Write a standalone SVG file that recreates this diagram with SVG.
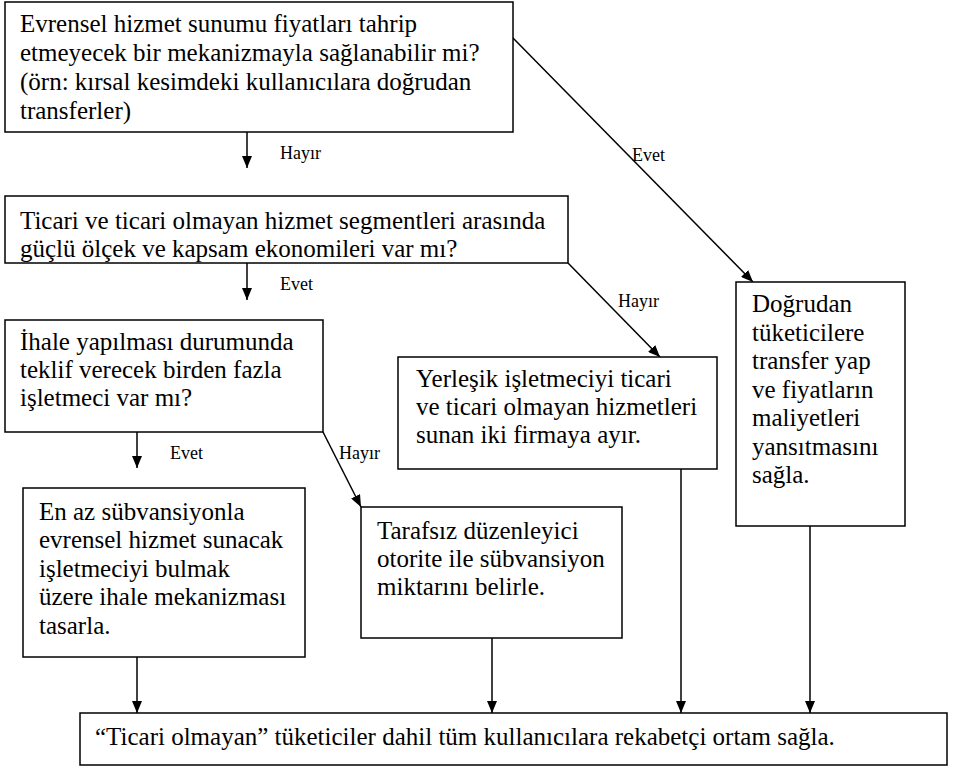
<svg xmlns="http://www.w3.org/2000/svg" width="953" height="768" viewBox="0 0 953 768">
<style>
.box{fill:#fff;stroke:#000;stroke-width:1.5}
.t{font-family:"Liberation Serif","Times New Roman",serif;font-size:25px;fill:#000}
.l{font-family:"Liberation Serif","Times New Roman",serif;font-size:18px;fill:#000}
.c{stroke:#000;stroke-width:1.5;fill:none;marker-end:url(#ah)}
</style>
<defs>
<marker id="ah" viewBox="0 0 12 10" refX="12" refY="5" markerWidth="12" markerHeight="10" markerUnits="userSpaceOnUse" orient="auto">
<path d="M0,0 L12,5 L0,10 z" fill="#000"/>
</marker>
</defs>
<rect width="953" height="768" fill="#fff"/>
<g id="connectors">
<line class="c" x1="247" y1="132" x2="247" y2="168"/>
<line class="c" x1="247" y1="263" x2="247" y2="300"/>
<line class="c" x1="137" y1="432" x2="137" y2="468"/>
<line class="c" x1="323" y1="432" x2="361" y2="507"/>
<line class="c" x1="568" y1="263" x2="660" y2="357"/>
<line class="c" x1="512" y1="37" x2="753" y2="282"/>
<line class="c" x1="137" y1="657" x2="137" y2="713"/>
<line class="c" x1="492" y1="638" x2="492" y2="713"/>
<line class="c" x1="681" y1="469" x2="681" y2="713"/>
<line class="c" x1="810" y1="526" x2="810" y2="713"/>
<text class="l" x="280" y="159">Hayır</text>
<text class="l" x="280" y="290">Evet</text>
<text class="l" x="170" y="459">Evet</text>
<text class="l" x="339" y="459">Hayır</text>
<text class="l" x="618" y="307">Hayır</text>
<text class="l" x="632" y="161">Evet</text>
</g>
<g id="n1">
<rect class="box" x="5" y="2" width="508" height="130"/>
<text class="t" x="20" y="32">Evrensel hizmet sunumu fiyatları tahrip</text>
<text class="t" x="20" y="61">etmeyecek bir mekanizmayla sağlanabilir mi?</text>
<text class="t" x="20" y="90">(örn: kırsal kesimdeki kullanıcılara doğrudan</text>
<text class="t" x="20" y="119">transferler)</text>
</g>
<g id="n2">
<rect class="box" x="5" y="196" width="563" height="67"/>
<text class="t" x="20" y="229">Ticari ve ticari olmayan hizmet segmentleri arasında</text>
<text class="t" x="20" y="257">güçlü ölçek ve kapsam ekonomileri var mı?</text>
</g>
<g id="n3">
<rect class="box" x="5" y="320" width="318" height="112"/>
<text class="t" x="20" y="350">İhale yapılması durumunda</text>
<text class="t" x="20" y="378">teklif verecek birden fazla</text>
<text class="t" x="20" y="406">işletmeci var mı?</text>
</g>
<g id="n4">
<rect class="box" x="23" y="488" width="282" height="169"/>
<text class="t" x="39" y="520">En az sübvansiyonla</text>
<text class="t" x="39" y="548">evrensel hizmet sunacak</text>
<text class="t" x="39" y="577">işletmeciyi bulmak</text>
<text class="t" x="39" y="605">üzere ihale mekanizması</text>
<text class="t" x="39" y="634">tasarla.</text>
</g>
<g id="n5">
<rect class="box" x="361" y="507" width="261" height="131"/>
<text class="t" x="377" y="539">Tarafsız düzenleyici</text>
<text class="t" x="377" y="567">otorite ile sübvansiyon</text>
<text class="t" x="377" y="595">miktarını belirle.</text>
</g>
<g id="n6">
<rect class="box" x="398" y="357" width="319" height="112"/>
<text class="t" x="416" y="387">Yerleşik işletmeciyi ticari</text>
<text class="t" x="416" y="415">ve ticari olmayan hizmetleri</text>
<text class="t" x="416" y="443">sunan iki firmaya ayır.</text>
</g>
<g id="n7">
<rect class="box" x="736" y="282" width="169" height="244"/>
<text class="t" x="752" y="312">Doğrudan</text>
<text class="t" x="752" y="341">tüketicilere</text>
<text class="t" x="752" y="369">transfer yap</text>
<text class="t" x="752" y="398">ve fiyatların</text>
<text class="t" x="752" y="426">maliyetleri</text>
<text class="t" x="752" y="455">yansıtmasını</text>
<text class="t" x="752" y="483">sağla.</text>
</g>
<g id="n8">
<rect class="box" x="80" y="713" width="867" height="52"/>
<text class="t" x="95" y="745">“Ticari olmayan” tüketiciler dahil tüm kullanıcılara rekabetçi ortam sağla.</text>
</g>
</svg>
